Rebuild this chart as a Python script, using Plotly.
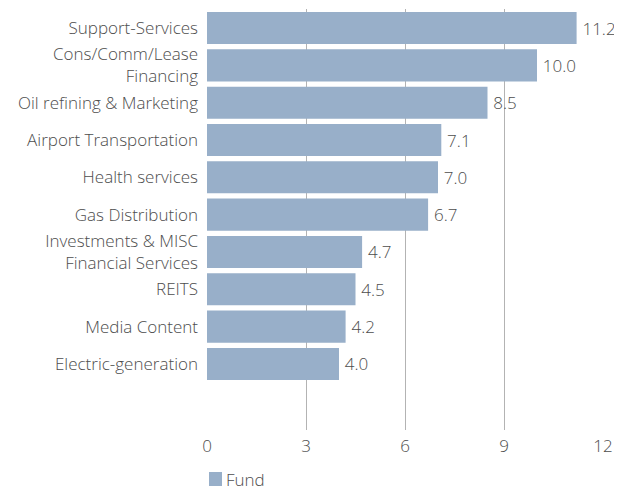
import plotly.graph_objects as go

categories = ["Support-Services", "Cons/Comm/Lease<br>Financing", "Oil refining & Marketing",
              "Airport Transportation", "Health services", "Gas Distribution",
              "Investments & MISC<br>Financial Services", "REITS", "Media Content",
              "Electric-generation"]
values = [11.2, 10.0, 8.5, 7.1, 7.0, 6.7, 4.7, 4.5, 4.2, 4.0]
x_ticks = [0, 3, 6, 9, 12]
series_name = "Fund"

FONT = "Open Sans"
GREY = "#4d4d4d"
BAR = "#98afc9"
fnt = dict(family=FONT, size=17, color=GREY, weight=300)

PW, PH = 396, 421  # plot area size in px

fig = go.Figure(go.Bar(
    y=categories, x=values, orientation="h", name=series_name,
    marker=dict(color=BAR, line=dict(width=0)),
    text=[f"\u2009{v:.1f}" for v in values], textposition="outside",
    textfont=fnt, cliponaxis=False, showlegend=False,
))

# legend swatch + label
fig.add_shape(type="rect", xref="paper", yref="paper",
              x0=2 / PW, x1=15 / PW, y0=-56 / PH, y1=-42 / PH,
              fillcolor=BAR, line=dict(width=0))
fig.add_annotation(text=series_name, xref="paper", yref="paper",
                   x=17 / PW, y=-49 / PH, xanchor="left", yanchor="middle",
                   showarrow=False, font=fnt)

fig.update_layout(
    width=622, height=490,
    margin=dict(l=199, r=27, t=1, b=68),
    paper_bgcolor="white", plot_bgcolor="white",
    font=fnt,
    bargap=0.14,
    showlegend=False,
    xaxis=dict(range=[0, 12], tickvals=x_ticks, showgrid=True, gridcolor="#b3b3b3",
               gridwidth=1, zeroline=False, showline=False, ticks="",
               ticklabelstandoff=4, automargin=False, tickfont=fnt),
    yaxis=dict(type="category", categoryorder="array", categoryarray=categories,
               range=[10.77, -0.51], showgrid=False, zeroline=False, showline=False,
               ticks="", ticklabelstandoff=8, automargin=False, tickfont=fnt),
)

fig.write_html("out.html")
